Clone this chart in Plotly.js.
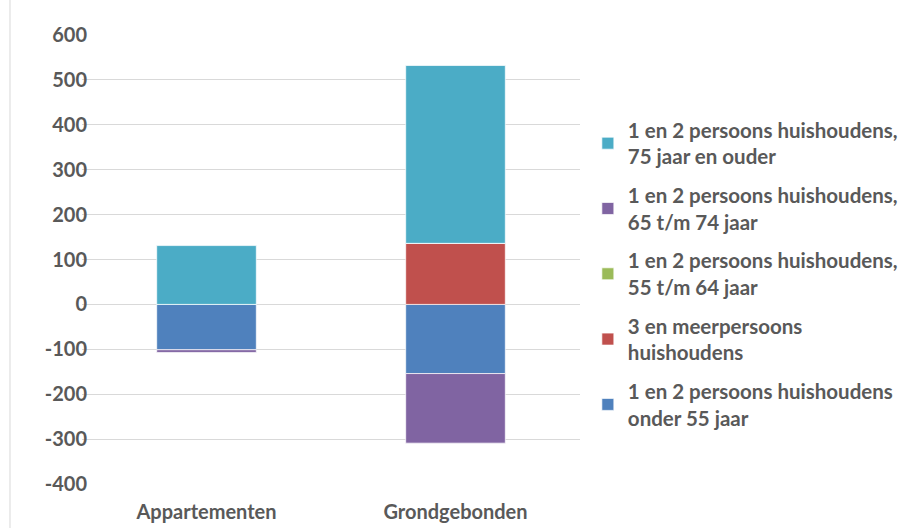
<!DOCTYPE html>
<html><head><meta charset="utf-8">
<script src="https://cdn.plot.ly/plotly-3.0.1.min.js"></script>
<style>html,body{margin:0;padding:0;background:#fff}#c{width:903px;height:528px}</style>
</head><body><div id="c"></div>
<script>
const categories = ["Appartementen", "Grondgebonden"];
const onder55 = [-101, -154];
const meerpersoons = [0, 136];
const jaar55_64 = [0, 0];
const jaar65_74 = [-6, -155];
const jaar75plus = [131, 396];
const seriesNames = [
  "1 en 2 persoons huishoudens<br>onder 55 jaar",
  "3 en meerpersoons<br>huishoudens",
  "1 en 2 persoons huishoudens,<br>55 t/m 64 jaar",
  "1 en 2 persoons huishoudens,<br>65 t/m 74 jaar",
  "1 en 2 persoons huishoudens,<br>75 jaar en ouder"
];
const seriesValues = [onder55, meerpersoons, jaar55_64, jaar65_74, jaar75plus];
const colors = ["#4F81BD", "#C0504D", "#9BBB59", "#8064A2", "#4BACC6"];
const yTicks = [-400, -300, -200, -100, 0, 100, 200, 300, 400, 500, 600];
const yTickText = ["-400", "-300", "-200", "-100", "0", "100", "200", "300", "400", "500", "600"];

const traces = seriesValues.map((v, i) => ({
  type: "bar", x: categories, y: v, name: seriesNames[i], legendgroup: "g" + i,
  legendrank: seriesValues.length - i,
  marker: {color: colors[i], line: {color: "rgba(255,255,255,0.7)", width: 1}}
}));

const font = "Lato, 'Open Sans', sans-serif";
const layout = {
  width: 903, height: 528,
  margin: {l: 82, r: 323, t: 35, b: 44},
  barmode: "relative", bargap: 0.6,
  paper_bgcolor: "#fff", plot_bgcolor: "#fff",
  font: {family: font, color: "#595959", size: 20, weight: "bold"},
  xaxis: {tickfont: {size: 20, color: "#595959", weight: "bold"}, showline: false, ticks: "",
          ticklabelstandoff: 14, fixedrange: true},
  yaxis: {range: [-400, 600], tickvals: yTicks, ticktext: yTickText, showgrid: true, gridcolor: "#D9D9D9", gridwidth: 1,
          zeroline: true, zerolinecolor: "#D9D9D9", zerolinewidth: 1,
          tickfont: {size: 20, color: "#595959", weight: "bold"}, ticks: "", ticklen: 0,
          ticklabelstandoff: -6, automargin: false},
  legend: {traceorder: "grouped", xref: "container", yref: "container", x: 0.651, xanchor: "left",
           y: 0.481, yanchor: "middle", maxheight: 500,
           font: {size: 20.5, color: "#595959", weight: "bold", family: font},
           itemwidth: 30, tracegroupgap: 9},
  showlegend: true,
  shapes: [{type: "line", xref: "paper", yref: "paper", x0: -0.1446, x1: -0.1446, y0: -0.2, y1: 1.2,
            line: {color: "#D9D9D9", width: 1}}]
};
Plotly.newPlot("c", traces, layout, {displayModeBar: false, staticPlot: true});
</script></body></html>
